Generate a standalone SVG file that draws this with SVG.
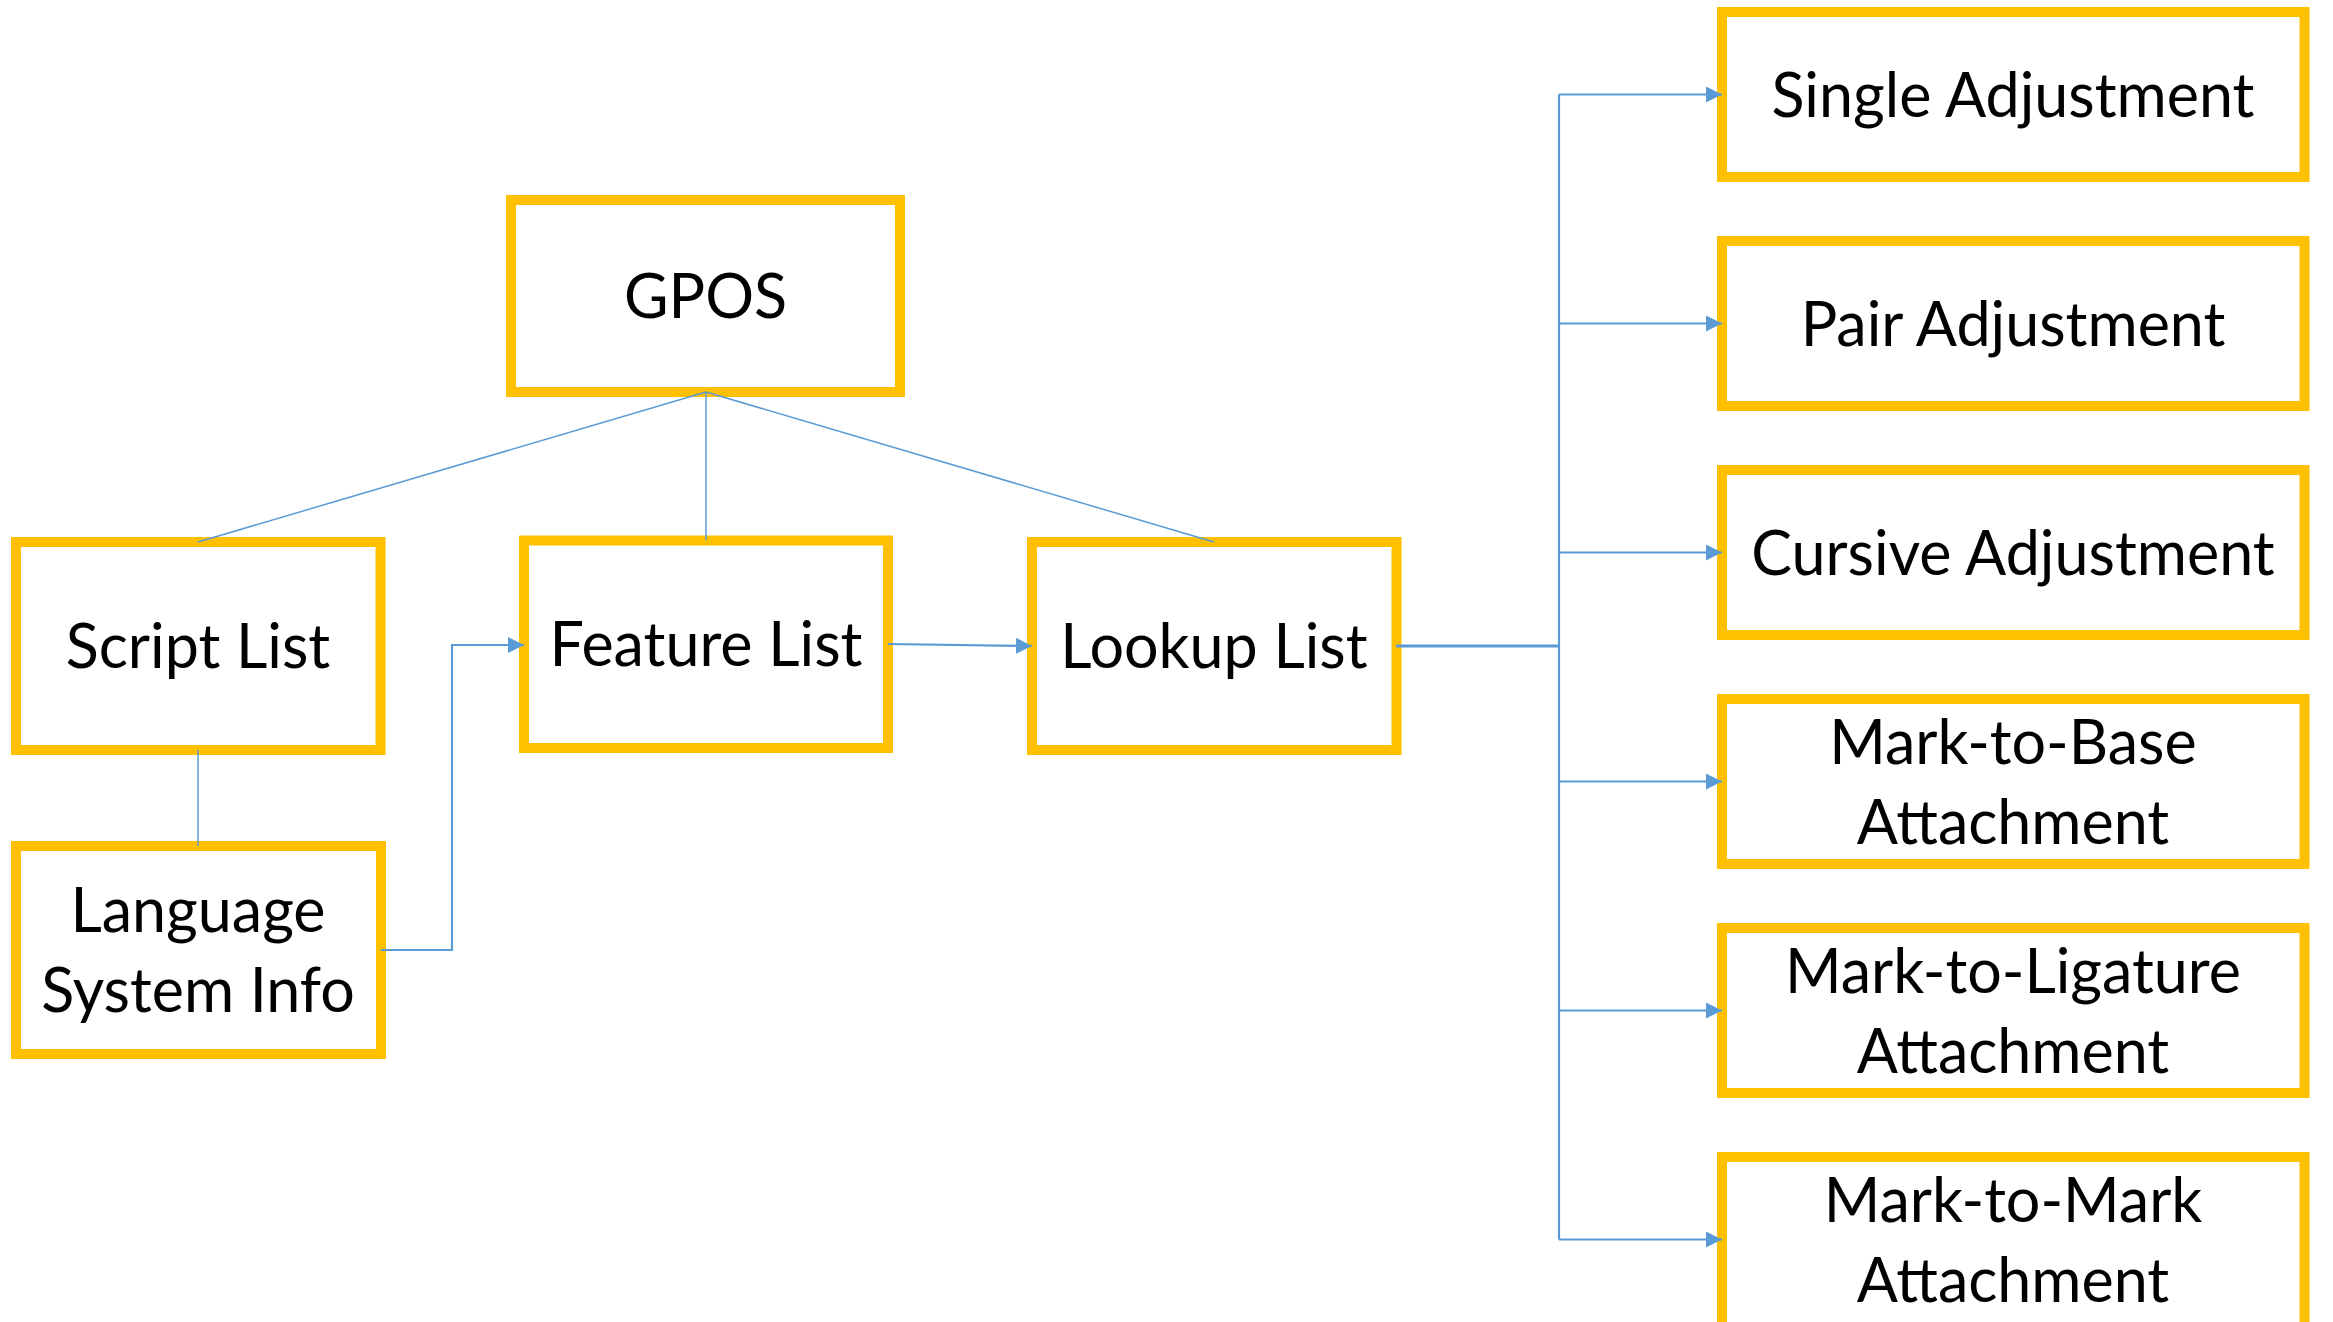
<svg xmlns="http://www.w3.org/2000/svg" width="2333" height="1322" viewBox="0 0 2333 1322">
<style>
.box{fill:#fff;stroke:#FFC000;stroke-width:10}
.t{font-family:Lato,"Open Sans","Liberation Sans",sans-serif;font-size:61px;fill:#000;text-anchor:middle}
.thin{fill:none;stroke:#5B9BD5;stroke-width:1.5}
.c{fill:none;stroke:#5B9BD5;stroke-width:2.2}
.ca{fill:none;stroke:#5B9BD5;stroke-width:2.2;marker-end:url(#ah)}
</style>
<defs>
<marker id="ah" markerUnits="userSpaceOnUse" markerWidth="16" markerHeight="16" refX="16" refY="8" orient="auto">
<path d="M0,0 L16,8 L0,16 z" fill="#5B9BD5"/>
</marker>
</defs>
<rect width="2333" height="1322" fill="#fff"/>
<g id="gpos"><rect class="box" x="511" y="200" width="389" height="192"/><text class="t" x="705.5" y="318">GPOS</text></g>
<g id="script-list"><rect class="box" x="16" y="542" width="364.5" height="208"/><text class="t" x="198" y="668">Script List</text></g>
<g id="feature-list"><rect class="box" x="524" y="540.5" width="364" height="207.5"/><text class="t" x="706" y="666">Feature List</text></g>
<g id="lookup-list"><rect class="box" x="1032" y="542" width="364.5" height="208"/><text class="t" x="1214" y="668">Lookup List</text></g>
<g id="language-system-info"><rect class="box" x="16" y="846" width="365" height="208"/><text class="t" x="198" y="932">Language</text><text class="t" x="198" y="1012">System Info</text></g>
<g id="single-adjustment"><rect class="box" x="1722" y="12" width="582.5" height="165"/><text class="t" x="2013" y="117">Single Adjustment</text></g>
<g id="pair-adjustment"><rect class="box" x="1722" y="241" width="582.5" height="165"/><text class="t" x="2013" y="346">Pair Adjustment</text></g>
<g id="cursive-adjustment"><rect class="box" x="1722" y="470" width="582.5" height="165"/><text class="t" x="2013" y="575">Cursive Adjustment</text></g>
<g id="mark-to-base"><rect class="box" x="1722" y="699" width="582.5" height="165"/><text class="t" x="2013" y="764">Mark-to-Base</text><text class="t" x="2013" y="844">Attachment</text></g>
<g id="mark-to-ligature"><rect class="box" x="1722" y="928" width="582.5" height="165"/><text class="t" x="2013" y="993">Mark-to-Ligature</text><text class="t" x="2013" y="1073">Attachment</text></g>
<g id="mark-to-mark"><rect class="box" x="1722" y="1157" width="582.5" height="170"/><text class="t" x="2013" y="1222">Mark-to-Mark</text><text class="t" x="2013" y="1302">Attachment</text></g>
<g id="connectors">
<path class="thin" d="M706,392 L198,542"/>
<path class="thin" d="M706,392 L706,540"/>
<path class="thin" d="M706,392 L1214,542"/>
<path class="thin" d="M198,750 L198,846"/>
<path class="ca" d="M381,950 H452 V645 H524"/>
<path class="ca" d="M888,644 L1032,646"/>
<path class="c" style="stroke-width:3" d="M1396,646 H1559"/>
<path class="c" d="M1559,94.5 V1239.5"/>
<path class="ca" d="M1559,94.5 H1722"/>
<path class="ca" d="M1559,323.5 H1722"/>
<path class="ca" d="M1559,552.5 H1722"/>
<path class="ca" d="M1559,781.5 H1722"/>
<path class="ca" d="M1559,1010.5 H1722"/>
<path class="ca" d="M1559,1239.5 H1722"/>
</g>
</svg>
